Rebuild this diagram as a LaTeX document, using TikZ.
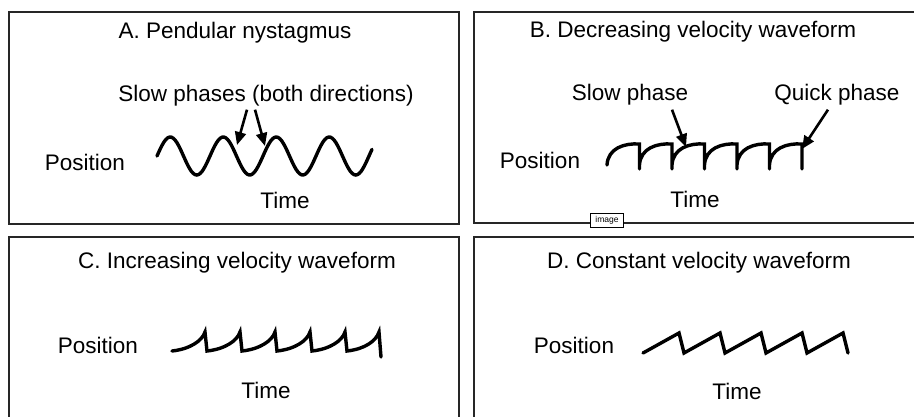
\documentclass[tikz,border=0pt]{standalone}
\usepackage{fontspec}
\setmainfont{Liberation Sans}
\usetikzlibrary{arrows.meta}

\begin{document}
\begin{tikzpicture}[x=1pt,y=-1pt,
  panel/.style={draw=black!85, line width=1.6pt},
  lbl/.style={inner sep=0pt, font=\fontsize{22.5}{27}\selectfont},
  wave/.style={line width=3.4pt, line cap=round},
  arr/.style={line width=2.6pt, -{Triangle[length=13pt,width=11pt]}}]
\useasboundingbox (0,0) rectangle (914,416);
% four panels
\draw[panel] (9,12) rectangle (459,224);
\draw[panel] (474,12) rectangle (940,223);
\draw[panel] (9,237) rectangle (459,440);
\draw[panel] (474,237) rectangle (940,440);
\node[draw, line width=1pt, fill=white, inner sep=2pt, minimum width=33pt, minimum height=14pt, font=\fontsize{8.5}{9}\selectfont] (tag) at (607,220) {image};

% A. pendular
\node[lbl] (titleA) at (235,33) {A. Pendular nystagmus};
\node[lbl] (slowA) at (266,96) {Slow phases (both directions)};
\node[lbl] (posA) at (85,162) {Position};
\node[lbl] (timeA) at (285,200) {Time};
\draw[wave] plot[domain=0:215, samples=120] (\x+157, {156-19*sin(6.7925*\x)});
\coordinate (tipA1) at (237,145);
\coordinate (tipA2) at (265,146);
\draw[arr] ([xshift=-19pt,yshift=-3pt]slowA.south) -- (tipA1);
\draw[arr] ([xshift=-11pt,yshift=-3pt]slowA.south) -- (tipA2);

% B. decreasing velocity
\node[lbl] (titleB) at (693,32) {B. Decreasing velocity waveform};
\node[lbl] (slowB) at (630,95) {Slow phase};
\node[lbl] (quickB) at (837,95) {Quick phase};
\node[lbl] (posB) at (540,160) {Position};
\node[lbl] (timeB) at (695,199) {Time};
\draw[wave] (607,165) \foreach \i in {1,...,6} {
  .. controls +(1,-17) and +(-15,-1) .. ++(32.5,-21) -- ++(0,25) ++(0,-4) };
\coordinate (tipB1) at (686,147);
\coordinate (tipB2) at (802,149);
\draw[arr] ([xshift=42pt,yshift=-4pt]slowB.south) -- (tipB1);
\draw[arr] ([xshift=-9pt,yshift=-4pt]quickB.south) -- (tipB2);

% C. increasing velocity
\node[lbl] (titleC) at (237,263) {C. Increasing velocity waveform};
\node[lbl] (posC) at (98,345) {Position};
\node[lbl] (timeC) at (266,390) {Time};
\draw[wave] (172,351) \foreach \i in {1,...,5} {
  .. controls +(18,-2) and +(-3,9) .. ++(33,-19) -- ++(2,19) }
  .. controls +(18,-2) and +(-3,9) .. ++(32,-19) -- ++(2,25);

% D. constant velocity
\node[lbl] (titleD) at (699,263) {D. Constant velocity waveform};
\node[lbl] (posD) at (574,345) {Position};
\node[lbl] (timeD) at (737,391) {Time};
\draw[wave] (643,353) \foreach \i in {1,...,5} { -- ++(36,-20) -- ++(5,20) };
\end{tikzpicture}
\end{document}
